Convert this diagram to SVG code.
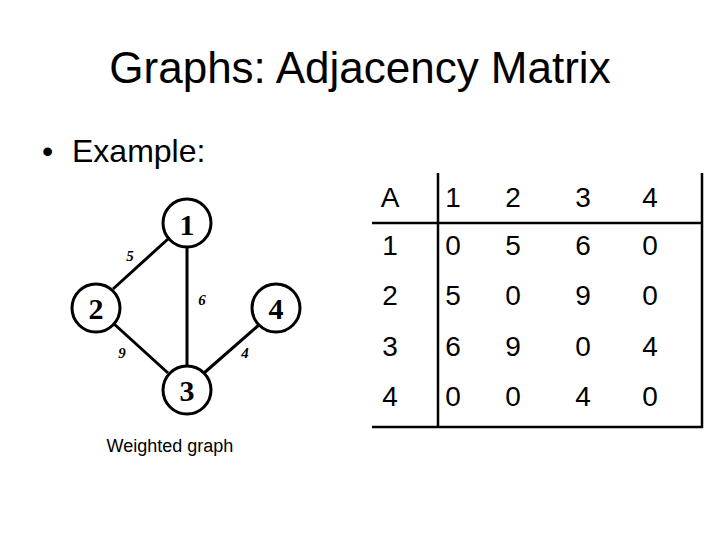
<svg xmlns="http://www.w3.org/2000/svg" width="720" height="540" viewBox="0 0 720 540">
<style>
.sans{font-family:"Liberation Sans",Arial,sans-serif;fill:#000}
.title{font-size:44px}
.bullet{font-size:32px}
.cell{font-size:28px;text-anchor:middle}
.node circle{fill:#fff;stroke:#000;stroke-width:3}
.node text{font-family:"Liberation Serif","Times New Roman",serif;font-weight:bold;font-size:30px;text-anchor:middle;fill:#000}
.edge{stroke:#000;stroke-width:3}
.w{font-family:"Liberation Serif","Times New Roman",serif;font-weight:bold;font-style:italic;font-size:15px;text-anchor:middle;fill:#000}
.grid{stroke:#000;stroke-width:2.5}
</style>
<rect width="720" height="540" fill="#fff"/>
<text class="sans title" x="360" y="83" text-anchor="middle">Graphs: Adjacency Matrix</text>
<text class="sans bullet" x="42" y="162">•</text>
<text class="sans bullet" x="72" y="162">Example:</text>
<g id="connectors">
<line class="edge" x1="168" y1="239" x2="113" y2="289"/>
<line class="edge" x1="187" y1="247" x2="187" y2="366"/>
<line class="edge" x1="113" y1="323" x2="168" y2="373"/>
<line class="edge" x1="204" y1="373" x2="260" y2="324"/>
<text class="w" x="130" y="261">5</text>
<text class="w" x="202" y="305">6</text>
<text class="w" x="122" y="358">9</text>
<text class="w" x="245" y="358">4</text>
</g>
<g id="node1" class="node"><circle cx="187" cy="223" r="24"/><text x="187" y="235">1</text></g>
<g id="node2" class="node"><circle cx="96" cy="308" r="24"/><text x="96" y="319">2</text></g>
<g id="node4" class="node"><circle cx="276" cy="308" r="24"/><text x="276" y="319">4</text></g>
<g id="node3" class="node"><circle cx="187" cy="390" r="24"/><text x="187" y="401">3</text></g>
<text class="sans" x="170" y="452" font-size="18" text-anchor="middle">Weighted graph</text>
<g id="matrix">
<line class="grid" x1="438" y1="173" x2="438" y2="428"/>
<line class="grid" x1="372" y1="223" x2="703" y2="223"/>
<line class="grid" x1="702" y1="173" x2="702" y2="428"/>
<line class="grid" x1="372" y1="427" x2="703" y2="427"/>
<g class="sans cell">
<text x="390" y="207">A</text><text x="453" y="207">1</text><text x="513" y="207">2</text><text x="583" y="207">3</text><text x="650" y="207">4</text>
<text x="390" y="255">1</text><text x="453" y="255">0</text><text x="513" y="255">5</text><text x="583" y="255">6</text><text x="650" y="255">0</text>
<text x="390" y="305">2</text><text x="453" y="305">5</text><text x="513" y="305">0</text><text x="583" y="305">9</text><text x="650" y="305">0</text>
<text x="390" y="356">3</text><text x="453" y="356">6</text><text x="513" y="356">9</text><text x="583" y="356">0</text><text x="650" y="356">4</text>
<text x="390" y="406">4</text><text x="453" y="406">0</text><text x="513" y="406">0</text><text x="583" y="406">4</text><text x="650" y="406">0</text>
</g>
</g>
</svg>
